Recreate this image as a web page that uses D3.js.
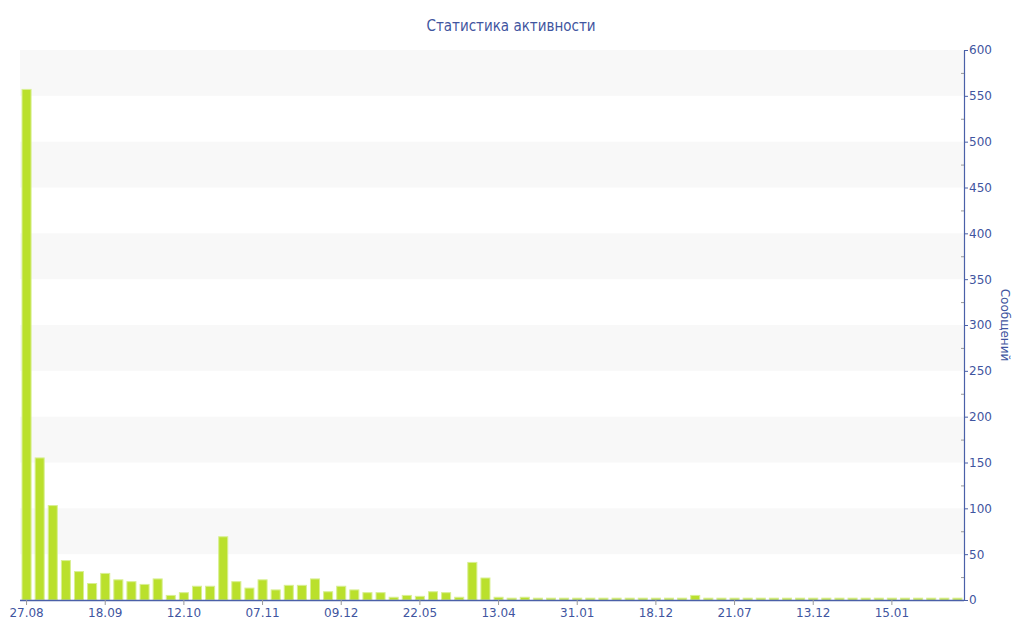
<!DOCTYPE html>
<html>
<head>
<meta charset="utf-8">
<script src="https://cdn.jsdelivr.net/npm/d3@7"></script>
<style>
html,body{margin:0;padding:0;background:#fff;}
svg{display:block;font-family:"DejaVu Sans",Verdana,sans-serif;}
</style>
</head>
<body>
<svg id="chart" width="1024" height="640"></svg>
<script>
const title = "Статистика активности";
const yTitle = "Сообщений";
const values = [557,155,103,43,31,18,29,22,20,17,23,5,8,15,15,69,20,13,22,11,16,16,23,9,15,11,8,8,3,5,4,9,8,3,41,24,3,2,3,2,2,2,2,2,2,2,2,2,2,2,2,5,2,2,2,2,2,2,2,2,2,2,2,2,2,2,2,2,2,2,2,2];
const tickLabels = ["27.08","18.09","12.10","07.11","09.12","22.05","13.04","31.01","18.12","21.07","13.12","15.01"];
const tickEvery = 6;
const yMax = 600;

const svg = d3.select("#chart");
const m = {left:20, right:60, top:50, bottom:40};
const W = 1024, H = 640;
const x0 = m.left, x1 = W - m.right, y0 = H - m.bottom, y1 = m.top;
const axisColor = "#4a60a8", textColor = "#3f55a0";

const x = d3.scaleBand().domain(d3.range(values.length)).range([x0, x1]).paddingInner(0.31).paddingOuter(0.155);
const y = d3.scaleLinear().domain([0, yMax]).range([y0, y1]);

// bands
const bands = d3.range(0, yMax, 50).filter(v => (v/50) % 2 === 1);
svg.append("g").selectAll("rect").data(bands).join("rect")
  .attr("x", x0).attr("width", x1 - x0)
  .attr("y", d => y(d + 50)).attr("height", d => y(d) - y(d + 50))
  .attr("fill", "#f8f8f8");

// bars
svg.append("g").selectAll("rect").data(values).join("rect")
  .attr("x", (d,i) => x(i)).attr("width", x.bandwidth())
  .attr("y", d => y(d)).attr("height", d => y(0) - y(d))
  .attr("fill", "#bae02c").attr("stroke", "#d8ef92").attr("stroke-width", 1);

// x axis
const xa = svg.append("g").attr("transform", `translate(0,${y0})`)
  .call(d3.axisBottom(x)
    .tickValues(d3.range(0, values.length, tickEvery))
    .tickFormat(i => tickLabels[i / tickEvery])
    .tickSize(5).tickSizeOuter(0).tickPadding(3));
xa.select(".domain").attr("stroke", axisColor).attr("d", `M${x0},0.5H${x1}`).attr("stroke-width", 1.5);
xa.selectAll(".tick line").attr("stroke", "#999");
xa.selectAll(".tick text").attr("fill", textColor).style("font-size", "12px").style("font-family", "DejaVu Sans");

// y axis minor ticks
const ya = svg.append("g").attr("transform", `translate(${x1},0)`);
ya.call(d3.axisRight(y).tickValues(d3.range(25, yMax, 50)).tickSize(0).tickFormat(""))
  .call(g => g.selectAll(".tick line").attr("x1", -3).attr("x2", 0).attr("stroke", "#999"));
ya.select(".domain").remove();
const yb = svg.append("g").attr("transform", `translate(${x1},0)`)
  .call(d3.axisRight(y).tickValues(d3.range(0, yMax + 1, 50)).tickSize(4).tickSizeOuter(0).tickPadding(1));
yb.select(".domain").attr("stroke", axisColor).attr("stroke-width", 1.2);
yb.selectAll(".tick line").attr("stroke", axisColor);
yb.selectAll(".tick text").attr("fill", textColor).style("font-size", "12px").style("font-family", "DejaVu Sans");

// titles
svg.append("text").attr("x", 511).attr("y", 31).attr("text-anchor", "middle")
  .attr("fill", textColor).style("font-size", "15px")
  .style("font-family", "'DejaVu Sans Condensed','DejaVu Sans',sans-serif").text(title);
svg.append("text").attr("transform", `translate(1001,${(y0+y1)/2}) rotate(90)`)
  .attr("text-anchor", "middle").attr("fill", textColor).style("font-size", "12px").text(yTitle);
</script>
</body>
</html>
